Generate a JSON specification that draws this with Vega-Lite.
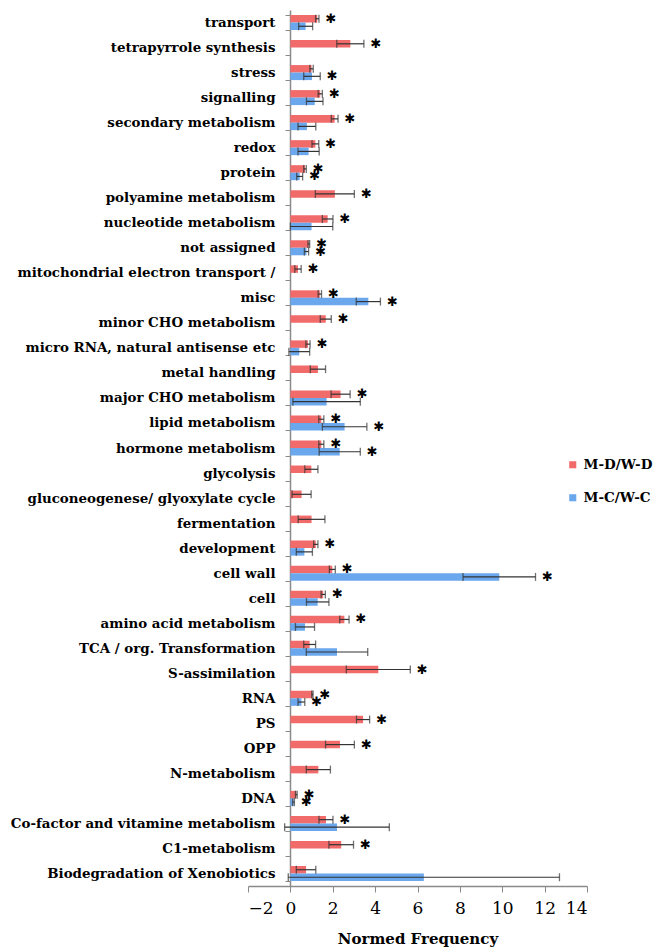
{
"$schema": "https://vega.github.io/schema/vega-lite/v6.json",
"autosize": {"type": "none"},
"width": 339, "height": 876,
"padding": {"left": 248, "top": 10, "right": 74, "bottom": 62},
"config": {"view": {"stroke": null}, "font": "DejaVu Serif"},
"data": {"values": [
{"c":"transport","s":"M-D/W-D","v":1.27,"lo":1.19,"hi":1.35,"sig":true},
{"c":"transport","s":"M-C/W-C","v":0.72,"lo":0.39,"hi":1.05,"sig":false},
{"c":"tetrapyrrole synthesis","s":"M-D/W-D","v":2.83,"lo":2.19,"hi":3.47,"sig":true},
{"c":"stress","s":"M-D/W-D","v":1.0,"lo":0.92,"hi":1.08,"sig":false},
{"c":"stress","s":"M-C/W-C","v":1.02,"lo":0.63,"hi":1.41,"sig":true},
{"c":"signalling","s":"M-D/W-D","v":1.41,"lo":1.31,"hi":1.51,"sig":true},
{"c":"signalling","s":"M-C/W-C","v":1.15,"lo":0.76,"hi":1.54,"sig":false},
{"c":"secondary metabolism","s":"M-D/W-D","v":2.09,"lo":1.93,"hi":2.25,"sig":true},
{"c":"secondary metabolism","s":"M-C/W-C","v":0.78,"lo":0.36,"hi":1.2,"sig":false},
{"c":"redox","s":"M-D/W-D","v":1.18,"lo":1.02,"hi":1.34,"sig":true},
{"c":"redox","s":"M-C/W-C","v":0.86,"lo":0.36,"hi":1.36,"sig":false},
{"c":"protein","s":"M-D/W-D","v":0.69,"lo":0.63,"hi":0.75,"sig":true},
{"c":"protein","s":"M-C/W-C","v":0.44,"lo":0.3,"hi":0.58,"sig":true},
{"c":"polyamine metabolism","s":"M-D/W-D","v":2.1,"lo":1.18,"hi":3.02,"sig":true},
{"c":"nucleotide metabolism","s":"M-D/W-D","v":1.76,"lo":1.51,"hi":2.01,"sig":true},
{"c":"nucleotide metabolism","s":"M-C/W-C","v":1.0,"lo":0.0,"hi":2.0,"sig":false},
{"c":"not assigned","s":"M-D/W-D","v":0.87,"lo":0.83,"hi":0.91,"sig":true},
{"c":"not assigned","s":"M-C/W-C","v":0.76,"lo":0.66,"hi":0.86,"sig":true},
{"c":"mitochondrial electron transport /","s":"M-D/W-D","v":0.36,"lo":0.21,"hi":0.51,"sig":true},
{"c":"misc","s":"M-D/W-D","v":1.39,"lo":1.31,"hi":1.47,"sig":true},
{"c":"misc","s":"M-C/W-C","v":3.68,"lo":3.11,"hi":4.25,"sig":true},
{"c":"minor CHO metabolism","s":"M-D/W-D","v":1.67,"lo":1.41,"hi":1.93,"sig":true},
{"c":"micro RNA, natural antisense etc","s":"M-D/W-D","v":0.83,"lo":0.73,"hi":0.93,"sig":true},
{"c":"micro RNA, natural antisense etc","s":"M-C/W-C","v":0.42,"lo":-0.07,"hi":0.91,"sig":false},
{"c":"metal handling","s":"M-D/W-D","v":1.3,"lo":0.94,"hi":1.66,"sig":false},
{"c":"major CHO metabolism","s":"M-D/W-D","v":2.37,"lo":1.92,"hi":2.82,"sig":true},
{"c":"major CHO metabolism","s":"M-C/W-C","v":1.71,"lo":0.12,"hi":3.3,"sig":false},
{"c":"lipid metabolism","s":"M-D/W-D","v":1.46,"lo":1.34,"hi":1.58,"sig":true},
{"c":"lipid metabolism","s":"M-C/W-C","v":2.56,"lo":1.51,"hi":3.61,"sig":true},
{"c":"hormone metabolism","s":"M-D/W-D","v":1.46,"lo":1.34,"hi":1.58,"sig":true},
{"c":"hormone metabolism","s":"M-C/W-C","v":2.33,"lo":1.36,"hi":3.3,"sig":true},
{"c":"glycolysis","s":"M-D/W-D","v":0.99,"lo":0.68,"hi":1.3,"sig":false},
{"c":"gluconeogenese/ glyoxylate cycle","s":"M-D/W-D","v":0.53,"lo":0.08,"hi":0.98,"sig":false},
{"c":"fermentation","s":"M-D/W-D","v":1.0,"lo":0.37,"hi":1.63,"sig":false},
{"c":"development","s":"M-D/W-D","v":1.2,"lo":1.1,"hi":1.3,"sig":true},
{"c":"development","s":"M-C/W-C","v":0.66,"lo":0.28,"hi":1.04,"sig":false},
{"c":"cell wall","s":"M-D/W-D","v":1.98,"lo":1.84,"hi":2.12,"sig":true},
{"c":"cell wall","s":"M-C/W-C","v":9.86,"lo":8.15,"hi":11.57,"sig":true},
{"c":"cell","s":"M-D/W-D","v":1.55,"lo":1.45,"hi":1.65,"sig":true},
{"c":"cell","s":"M-C/W-C","v":1.29,"lo":0.76,"hi":1.82,"sig":false},
{"c":"amino acid metabolism","s":"M-D/W-D","v":2.55,"lo":2.33,"hi":2.77,"sig":true},
{"c":"amino acid metabolism","s":"M-C/W-C","v":0.69,"lo":0.24,"hi":1.14,"sig":false},
{"c":"TCA / org. Transformation","s":"M-D/W-D","v":0.91,"lo":0.63,"hi":1.19,"sig":false},
{"c":"TCA / org. Transformation","s":"M-C/W-C","v":2.2,"lo":0.75,"hi":3.65,"sig":false},
{"c":"S-assimilation","s":"M-D/W-D","v":4.15,"lo":2.64,"hi":5.66,"sig":true},
{"c":"RNA","s":"M-D/W-D","v":1.04,"lo":1.01,"hi":1.07,"sig":true},
{"c":"RNA","s":"M-C/W-C","v":0.52,"lo":0.36,"hi":0.68,"sig":true},
{"c":"PS","s":"M-D/W-D","v":3.43,"lo":3.12,"hi":3.74,"sig":true},
{"c":"OPP","s":"M-D/W-D","v":2.34,"lo":1.66,"hi":3.02,"sig":true},
{"c":"N-metabolism","s":"M-D/W-D","v":1.32,"lo":0.75,"hi":1.89,"sig":false},
{"c":"DNA","s":"M-D/W-D","v":0.28,"lo":0.24,"hi":0.32,"sig":true},
{"c":"DNA","s":"M-C/W-C","v":0.15,"lo":0.11,"hi":0.19,"sig":true},
{"c":"Co-factor and vitamine metabolism","s":"M-D/W-D","v":1.68,"lo":1.35,"hi":2.01,"sig":true},
{"c":"Co-factor and vitamine metabolism","s":"M-C/W-C","v":2.2,"lo":-0.27,"hi":4.67,"sig":false},
{"c":"C1-metabolism","s":"M-D/W-D","v":2.4,"lo":1.82,"hi":2.98,"sig":true},
{"c":"Biodegradation of Xenobiotics","s":"M-D/W-D","v":0.74,"lo":0.28,"hi":1.2,"sig":false},
{"c":"Biodegradation of Xenobiotics","s":"M-C/W-C","v":6.3,"lo":-0.1,"hi":12.7,"sig":false}
]},
"encoding": {
  "y": {"field": "c", "type": "nominal",
    "sort": ["transport","tetrapyrrole synthesis","stress","signalling","secondary metabolism","redox","protein","polyamine metabolism","nucleotide metabolism","not assigned","mitochondrial electron transport /","misc","minor CHO metabolism","micro RNA, natural antisense etc","metal handling","major CHO metabolism","lipid metabolism","hormone metabolism","glycolysis","gluconeogenese/ glyoxylate cycle","fermentation","development","cell wall","cell","amino acid metabolism","TCA / org. Transformation","S-assimilation","RNA","PS","OPP","N-metabolism","DNA","Co-factor and vitamine metabolism","C1-metabolism","Biodegradation of Xenobiotics"],
    "scale": {"paddingInner": 0.4, "paddingOuter": 0.2},
    "axis": {"title": null, "offset": -42, "tickBand": "extent", "tickSize": 5, "tickColor": "#8a8a8a", "domainColor": "#8a8a8a", "domainWidth": 1.5, "labelPadding": 10, "labelFont": "DejaVu Serif", "labelFontSize": 13.4, "labelFontWeight": "bold", "labelColor": "#000", "labelLimit": 320}},
  "yOffset": {"field": "s", "type": "nominal", "sort": ["M-D/W-D","M-C/W-C"], "scale": {"paddingInner": 0, "paddingOuter": 0}}
},
"layer": [
  {"mark": {"type": "bar"},
   "encoding": {
     "x": {"field": "v", "type": "quantitative", "scale": {"domain": [-2, 14], "nice": false},
       "axis": {"values": [-2,0,2,4,6,8,10,12,14], "grid": false, "title": "Normed Frequency", "titleFont": "DejaVu Serif", "titleFontSize": 15, "titleFontWeight": "bold", "titleColor": "#000", "titlePadding": 15, "labelFont": "DejaVu Serif", "labelFontSize": 17, "labelColor": "#000", "labelPadding": 8, "tickColor": "#8a8a8a", "domainColor": "#8a8a8a", "domainWidth": 1.5, "tickSize": 6}},
     "color": {"field": "s", "type": "nominal", "scale": {"domain": ["M-D/W-D","M-C/W-C"], "range": ["#f26b6b","#6aa7ec"]},
       "legend": {"title": null, "orient": "none", "legendX": 318, "legendY": 448, "padding": 0, "symbolType": "square", "symbolSize": 50, "symbolStrokeWidth": 0, "labelFont": "DejaVu Serif", "labelFontSize": 13.5, "labelFontWeight": "bold", "labelColor": "#000", "rowPadding": 18, "labelOffset": 4}}
   }},
  {"mark": {"type": "rule", "color": "#333", "strokeWidth": 1.2},
   "encoding": {"x": {"field": "lo", "type": "quantitative"}, "x2": {"field": "hi"}}},
  {"mark": {"type": "tick", "color": "#333", "thickness": 1.3, "size": 8},
   "encoding": {"x": {"field": "lo", "type": "quantitative"}}},
  {"mark": {"type": "tick", "color": "#333", "thickness": 1.3, "size": 8},
   "encoding": {"x": {"field": "hi", "type": "quantitative"}}},
  {"transform": [{"filter": "datum.sig"}],
   "mark": {"type": "text", "text": "✱", "font": "DejaVu Sans", "fontSize": 13, "dx": 12, "baseline": "middle", "color": "#000"},
   "encoding": {"x": {"field": "hi", "type": "quantitative"}}}
]
}
